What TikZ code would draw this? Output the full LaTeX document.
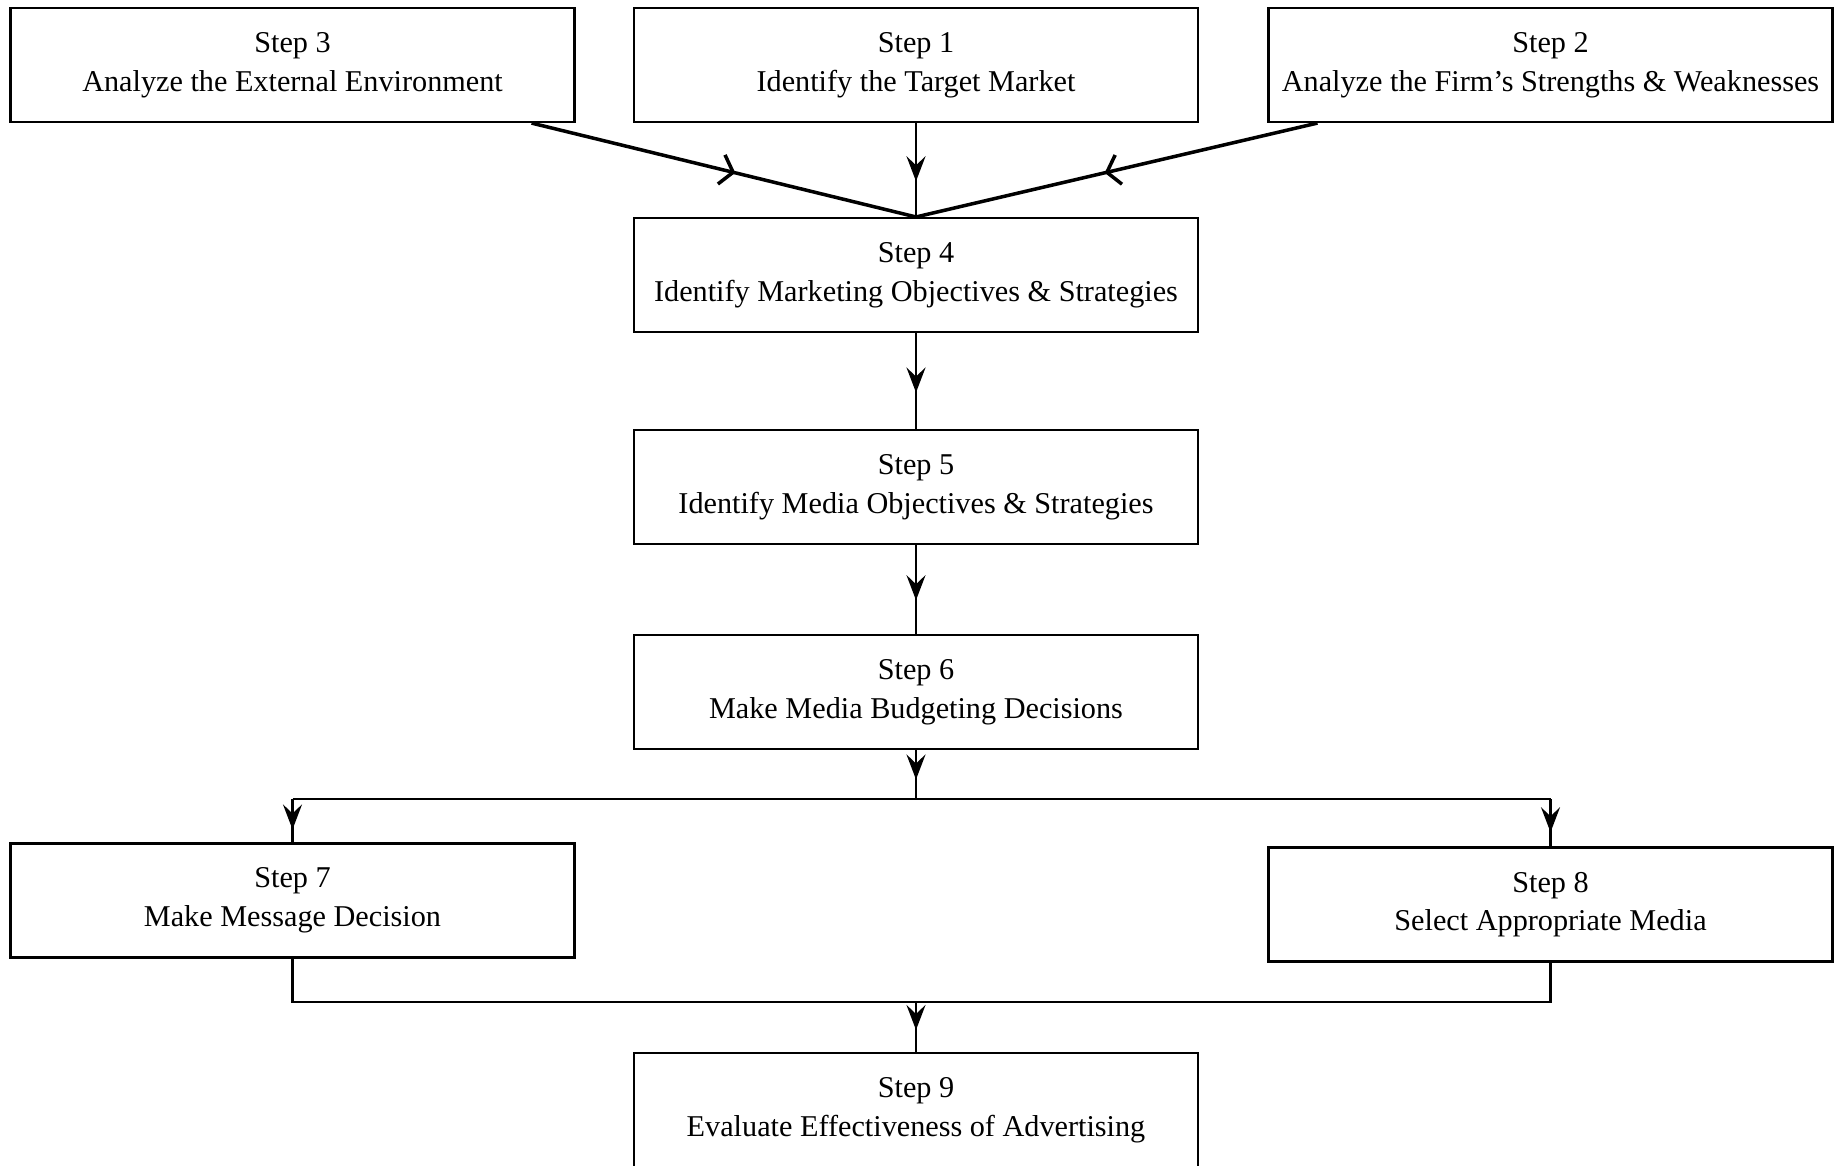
\documentclass[tikz,border=0pt]{standalone}
\usepackage{fontspec}
\setmainfont{Liberation Serif}
\usetikzlibrary{positioning,arrows.meta,decorations.markings}

\begin{document}
\begin{tikzpicture}[node distance=2.1cm, auto]
    \tikzstyle{stepbox} = [rectangle, draw, line width=0.6pt, align=center, minimum width=5.64cm, minimum height=1.14cm, inner xsep=0.5mm, font=\fontsize{8.6}{11}\selectfont]
    \tikzstyle{midarrow} = [line width=0.7pt, decoration={markings, mark=at position #1 with {\arrow{Stealth[length=2.5mm, width=1.9mm, inset=0.9mm]}}}, postaction={decorate}]
    \tikzstyle{slantarrow} = [line width=1pt, decoration={markings, mark=at position 0.53 with {\arrow{Straight Barb[length=1.2mm, width=3mm, line width=1pt]}}}, postaction={decorate}]

    \useasboundingbox (0,0) rectangle (18.39,-11.65);

    % Top row
    \node [stepbox] at (9.16,-0.65) (step1) {Step 1\\Identify the Target Market};
    \node [stepbox, left of=step1, node distance=6.235cm] (step3) {Step 3\\Analyze the External Environment};
    \node [stepbox, right of=step1, node distance=6.345cm] (step2) {Step 2\\Analyze the Firm's Strengths \& Weaknesses};

    % Middle column
    \node [stepbox, below of=step1] (step4) {Step 4\\Identify Marketing Objectives \& Strategies};
    \node [stepbox, below of=step4, node distance=2.12cm] (step5) {Step 5\\Identify Media Objectives \& Strategies};
    \node [stepbox, below of=step5, node distance=2.05cm] (step6) {Step 6\\Make Media Budgeting Decisions};

    % Branches
    \node [stepbox, below of=step3, node distance=8.355cm] (step7) {Step 7\\Make Message Decision};
    \node [stepbox, below of=step2, node distance=8.395cm] (step8) {Step 8\\Select Appropriate Media};

    % Last step
    \node [stepbox, below of=step6, node distance=4.18cm] (step9) {Step 9\\Evaluate Effectiveness of Advertising};

    \coordinate (split) at ([yshift=-0.49cm]step6.south);
    \coordinate (merge) at ([yshift=0.5cm]step9.north);

    \draw [slantarrow] ([xshift=-0.44cm]step3.south east) -- (step4.north);
    \draw [slantarrow] ([xshift=0.5cm]step2.south west) -- (step4.north);
    \draw [midarrow=0.62] (step1) -- (step4);
    \draw [midarrow=0.62] (step4) -- (step5);
    \draw [midarrow=0.62] (step5) -- (step6);
    \draw [midarrow=0.6] (step6.south) -- (split);
    \draw [line width=0.7pt] (step7.north |- split) -- (step8.north |- split);
    \draw [midarrow=0.7] (step7.north |- split) -- (step7.north);
    \draw [midarrow=0.7] (step8.north |- split) -- (step8.north);
    \draw [line width=0.7pt] (step7.south) |- (merge) -| (step8.south);
    \draw [midarrow=0.56] (merge) -- (step9.north);
\end{tikzpicture}
\end{document}
